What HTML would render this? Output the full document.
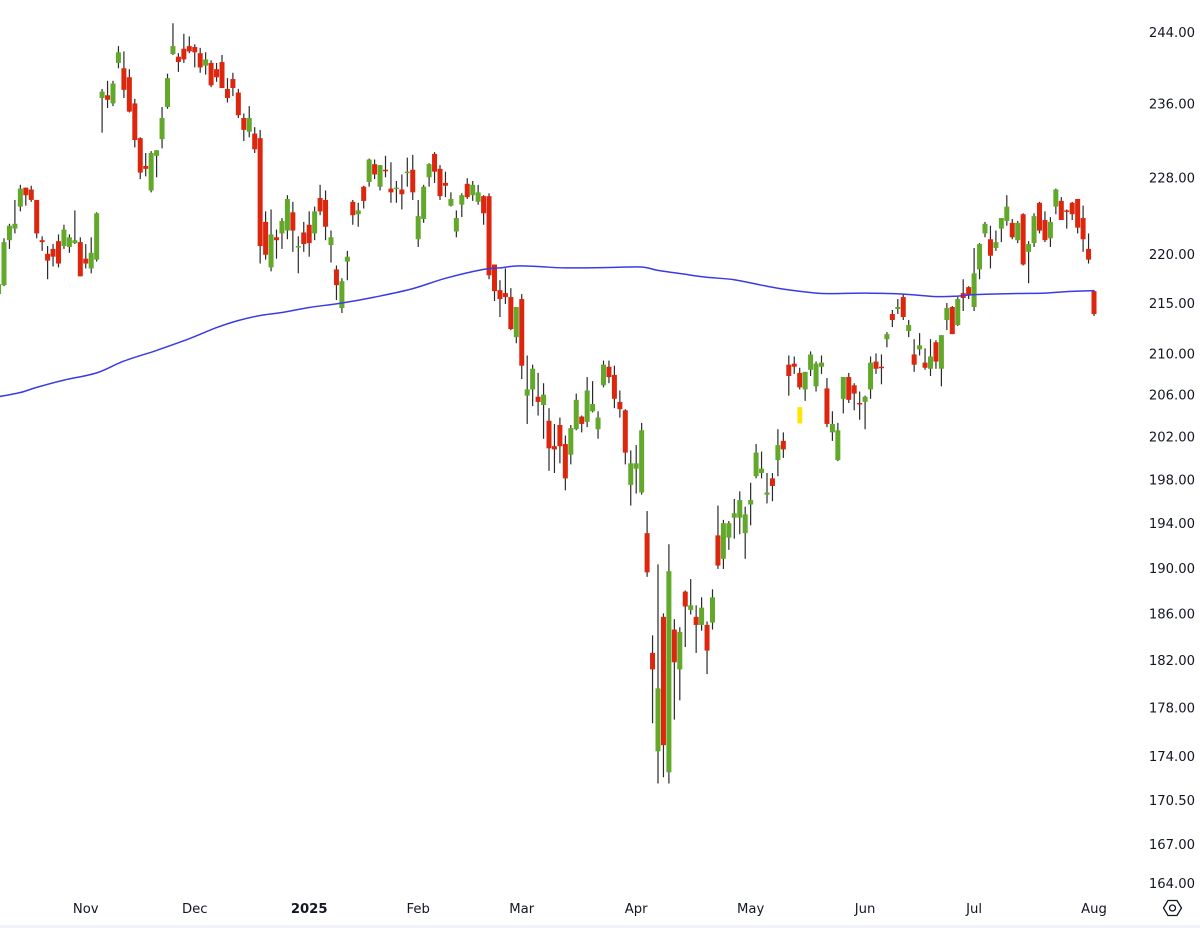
<!DOCTYPE html>
<html lang="en">
<head>
<meta charset="utf-8">
<title>Candlestick chart</title>
<style>
html,body{margin:0;padding:0;background:#fff;width:1200px;height:928px;overflow:hidden}
svg{display:block}
text{font-family:"DejaVu Sans","Liberation Sans",sans-serif;fill:#131722}
</style>
</head>
<body>
<svg id="chart" xmlns="http://www.w3.org/2000/svg" width="1200" height="928" viewBox="0 0 1200 928">
  <rect x="0" y="0" width="1200" height="928" fill="#ffffff"/>
  <rect x="0" y="925" width="1200" height="3" fill="#f0f3fa"/>
  <g id="candles"></g>
  <g id="overlay"></g>
  <g id="yaxis"></g>
  <g id="xaxis"></g>
  <g fill="none" stroke="#131722" stroke-width="1.3">
    <polygon points="1163.5,908 1168,900.5 1177,900.5 1181.5,908 1177,915.5 1168,915.5"/>
    <circle cx="1172.5" cy="908" r="3"/>
  </g>
</svg>
<script>
var highs=[217.1,221.6,223.1,225.6,227.2,226.9,227.1,225.6,221.8,220.8,221.0,222.0,223.0,222.0,224.5,221.7,221.0,221.7,224.3,237.6,238.5,238.5,242.4,241.8,239.8,236.5,232.3,230.6,230.8,230.9,235.6,239.3,245.0,241.6,243.8,243.5,242.6,242.2,241.7,240.8,240.5,241.4,238.8,239.4,237.6,234.9,235.7,233.4,233.1,224.4,224.6,222.5,223.7,226.1,225.4,221.8,223.3,224.4,224.9,227.2,226.6,222.4,218.8,217.5,220.3,225.6,225.3,227.1,230.0,229.9,229.3,230.3,229.6,227.6,228.3,230.1,230.4,225.6,227.2,229.5,230.7,229.3,228.6,226.4,224.5,226.3,227.9,227.6,227.2,226.1,226.3,218.9,217.3,218.5,216.5,214.6,215.9,209.8,208.9,208.1,207.1,204.7,203.2,203.8,202.1,203.1,206.1,204.0,207.7,207.3,204.4,209.3,209.3,208.8,206.4,204.6,200.7,201.2,203.3,195.1,184.1,190.3,186.0,192.1,185.5,184.8,188.0,189.0,186.7,187.4,185.3,188.1,195.6,194.3,194.2,196.2,196.9,195.5,197.7,201.3,200.6,198.6,198.6,202.7,202.4,209.8,209.7,208.6,208.2,210.2,209.2,209.8,207.6,204.4,203.3,207.7,208.1,207.1,206.3,205.9,209.7,210.0,209.9,212.1,214.3,215.4,215.9,213.3,211.4,212.0,210.5,211.4,211.3,211.8,215.0,214.7,215.6,217.4,216.7,220.6,221.1,223.3,222.9,222.4,223.7,226.1,223.6,223.4,224.2,221.3,224.2,225.4,224.4,223.8,226.8,225.9,224.6,225.4,225.7,225.0,222.1,216.3];
var lows=[215.7,216.7,220.5,222.1,224.4,225.0,225.4,221.6,220.3,217.4,218.7,218.6,220.5,220.1,221.0,217.7,218.5,218.0,219.2,232.8,235.5,235.7,239.9,236.6,235.0,231.2,227.8,228.1,226.4,228.0,231.1,235.4,241.4,239.5,240.5,241.6,240.0,239.4,239.2,237.8,238.4,237.7,236.1,236.8,234.4,231.9,232.3,230.6,219.0,219.4,218.2,219.5,220.5,221.5,220.2,218.0,220.2,219.7,221.4,224.0,221.4,219.1,215.3,214.0,217.3,223.0,222.8,224.7,227.0,227.8,226.6,228.0,225.3,225.3,224.6,227.0,225.6,220.7,223.2,227.0,227.4,225.6,225.9,224.9,221.7,223.8,225.7,225.5,225.1,223.0,217.4,215.2,213.6,214.9,212.3,211.0,207.5,203.2,204.9,204.0,201.8,198.8,198.6,199.5,197.0,199.4,202.6,202.4,202.9,204.3,201.8,206.7,207.1,204.7,203.8,199.4,195.6,196.7,196.6,189.2,176.7,171.8,172.3,171.8,177.0,178.6,183.1,185.9,182.6,184.5,180.8,184.6,189.9,189.9,191.6,192.6,193.0,190.8,193.8,198.1,198.1,195.8,196.0,198.3,200.0,205.9,208.0,206.5,205.4,207.8,206.3,208.0,202.9,201.6,199.7,204.2,205.2,204.5,203.6,202.7,205.6,208.0,207.0,210.6,212.6,213.9,213.3,211.6,208.2,209.8,208.4,207.8,208.5,206.8,212.3,211.9,212.7,214.2,215.4,214.2,217.4,221.7,218.5,220.3,221.2,222.9,221.5,221.1,218.8,217.0,220.7,222.1,221.2,220.7,224.1,223.5,222.6,223.5,222.1,220.2,219.0,213.7];
var opens=[215.9,216.8,221.4,222.6,224.9,226.9,226.7,225.6,221.4,220.0,220.5,221.3,220.8,220.7,221.1,221.2,219.5,218.5,219.4,236.6,236.9,236.0,240.5,239.9,238.9,236.0,232.2,229.2,226.6,230.3,232.1,235.6,241.5,241.2,242.1,242.4,242.3,241.6,240.2,240.5,239.8,240.6,237.6,238.7,237.2,234.4,232.9,232.7,232.2,223.3,218.6,221.7,222.1,222.4,224.3,220.7,222.2,223.0,222.1,225.8,225.6,220.9,218.4,214.5,219.2,225.4,224.1,227.0,227.5,229.4,227.0,228.8,226.8,226.8,226.7,228.5,228.8,221.5,223.6,228.0,230.5,228.9,227.4,225.0,222.3,225.1,227.3,226.1,225.4,226.0,226.0,218.9,216.3,216.0,215.6,211.6,215.4,205.9,206.5,205.8,205.0,203.5,201.1,203.1,201.3,200.3,202.7,203.9,203.4,204.4,202.7,206.9,208.7,207.9,205.3,204.5,197.5,199.0,196.8,193.1,182.6,174.4,185.7,172.7,184.6,181.2,187.9,186.3,185.7,185.0,185.0,185.2,192.9,190.8,192.7,194.5,194.5,193.1,195.7,198.3,198.6,196.6,198.1,199.8,201.6,208.9,209.0,208.1,206.5,208.4,206.8,208.7,206.6,202.4,199.8,205.6,207.7,206.9,205.2,205.3,206.5,209.2,208.7,211.4,213.9,214.4,215.6,212.2,209.9,210.4,209.1,208.5,211.1,208.5,213.3,214.6,212.8,216.0,216.6,214.6,218.4,222.1,221.5,220.6,222.6,223.4,223.2,221.4,224.1,220.2,221.1,225.3,223.5,221.6,224.9,225.5,224.5,225.3,225.7,223.7,220.5,216.2];
var closes=[216.9,221.2,222.9,223.1,226.8,226.1,225.6,222.1,221.2,219.3,219.7,219.0,222.5,221.7,221.4,217.7,219.0,220.1,224.2,237.3,236.4,238.2,241.7,237.5,235.1,232.0,228.5,228.9,230.6,230.9,234.4,238.8,242.4,240.6,240.9,241.8,241.7,240.0,240.9,238.0,238.9,237.7,236.6,237.7,234.7,233.1,234.4,231.0,220.8,219.9,222.0,221.4,223.4,225.7,222.4,220.8,221.0,221.1,224.4,224.4,222.8,221.7,216.8,217.2,219.7,224.0,224.5,225.5,229.9,228.3,229.3,228.7,226.4,226.9,226.2,228.6,226.4,223.9,227.0,229.4,228.6,226.0,227.1,225.7,223.7,226.1,225.9,227.2,226.4,224.2,217.8,216.2,215.4,215.6,212.4,214.6,208.8,206.5,208.5,205.3,206.0,200.9,200.8,201.1,198.1,202.8,205.5,203.2,206.4,205.1,203.8,208.9,207.7,205.6,204.6,200.5,199.5,199.5,202.6,189.6,181.2,179.6,174.9,189.7,181.8,184.4,186.6,186.7,185.0,186.5,182.8,187.4,190.2,194.0,194.0,194.9,196.1,194.8,196.1,200.5,199.0,196.8,197.4,201.2,200.8,207.8,208.7,206.7,208.2,209.9,209.0,209.1,203.2,203.2,202.6,207.7,205.5,206.1,205.1,205.8,209.1,208.5,208.6,211.9,213.3,214.6,213.6,212.8,208.9,210.8,208.6,209.7,209.2,211.8,214.5,211.9,215.4,215.5,215.8,218.0,221.0,223.1,219.8,221.2,223.7,224.9,221.7,223.2,218.9,221.0,223.9,222.4,221.4,223.3,226.7,223.5,224.4,224.1,222.7,221.5,219.4,213.9];
var maIndex=[0,4,7,12,18,23,29,35,40,44,48,52,57,63,69,76,82,89,92,95,99,104,112,118,121,126,130,135,140,144,150,153,159,166,172,176,179,186,192,196,201];
var maValues=[205.8,206.2,206.7,207.4,208.1,209.25,210.3,211.45,212.55,213.25,213.75,214.05,214.55,215.0,215.6,216.45,217.5,218.4,218.55,218.75,218.7,218.55,218.6,218.65,218.3,217.9,217.6,217.35,216.8,216.4,216.0,215.95,216.0,215.9,215.65,215.7,215.85,215.95,216.0,216.15,216.25];
var priceTicks=["244.00","236.00","228.00","220.00","215.00","210.00","206.00","202.00","198.00","194.00","190.00","186.00","182.00","178.00","174.00","170.50","167.00","164.00"];
var timeLabels=["Nov","Dec","2025","Feb","Mar","Apr","May","Jun","Jul","Aug"];
var timeIndex=[16,36,57,77,96,117,138,159,179,201];
var markerIndex=147;
var markerTop=204.8;
var markerBottom=203.25;

(function(){
var NS='http://www.w3.org/2000/svg';
function xAt(i){return -1.45+5.45*i;}
function yAt(p){return 32+2142*Math.log(244/p);}
function mk(tag,parent,attrs){
  var el=document.createElementNS(NS,tag);
  for(var k in attrs){el.setAttribute(k,attrs[k]);}
  parent.appendChild(el);
  return el;
}
var candleLayer=document.getElementById('candles');
var overlayLayer=document.getElementById('overlay');
var yAxisLayer=document.getElementById('yaxis');
var xAxisLayer=document.getElementById('xaxis');
var UP='#62a82a',DOWN='#dc260d',WICK='#2a2a2a';
for(var i=0;i<highs.length;i++){
  var cx=xAt(i);
  var wick=mk('line',candleLayer,{x1:cx,x2:cx,y1:yAt(highs[i]),y2:yAt(lows[i]),stroke:WICK,'stroke-width':1.2});
  
  
}
for(var j=0;j<highs.length;j++){
  var isUp=closes[j]>=opens[j];
  var bodyTop=yAt(Math.max(opens[j],closes[j]));
  var bodyBot=yAt(Math.min(opens[j],closes[j]));
  var body=mk('rect',candleLayer,{x:xAt(j)-2.5,width:5,y:bodyTop,height:Math.max(bodyBot-bodyTop,1.5),fill:isUp?UP:DOWN});
  
  
}
var marker=mk('rect',overlayLayer,{x:xAt(markerIndex)-2.3,width:4.8,y:yAt(markerTop),height:yAt(markerBottom)-yAt(markerTop),fill:'#ffe600'});


var px=[],py=[];
for(var m=0;m<maIndex.length;m++){px.push(xAt(maIndex[m]));py.push(yAt(maValues[m]));}
var d='M'+px[0].toFixed(1)+' '+py[0].toFixed(1);
for(var n=0;n<px.length-1;n++){
  var a=Math.max(n-1,0),b=Math.min(n+2,px.length-1);
  var c1x=px[n]+(px[n+1]-px[a])/6,c1y=py[n]+(py[n+1]-py[a])/6;
  var c2x=px[n+1]-(px[b]-px[n])/6,c2y=py[n+1]-(py[b]-py[n])/6;
  d+=' C'+c1x.toFixed(1)+' '+c1y.toFixed(1)+' '+c2x.toFixed(1)+' '+c2y.toFixed(1)+' '+px[n+1].toFixed(1)+' '+py[n+1].toFixed(1);
}
var maLine=mk('path',overlayLayer,{d:d,fill:'none',stroke:'#3b3be6','stroke-width':1.5,'stroke-linejoin':'round'});


for(var t=0;t<priceTicks.length;t++){
  var yl=mk('text',yAxisLayer,{x:1195,y:yAt(parseFloat(priceTicks[t]))+5,'text-anchor':'end','font-size':'13.2'});
  yl.textContent=priceTicks[t];
  
  
}
for(var s=0;s<timeLabels.length;s++){
  var isBold=timeLabels[s]==='2025';
  var xl=mk('text',xAxisLayer,{x:xAt(timeIndex[s]),y:913,'text-anchor':'middle','font-size':'13.2','font-weight':isBold?'700':'400'});
  xl.textContent=timeLabels[s];
  
  
}
})();
</script>
</body>
</html>
